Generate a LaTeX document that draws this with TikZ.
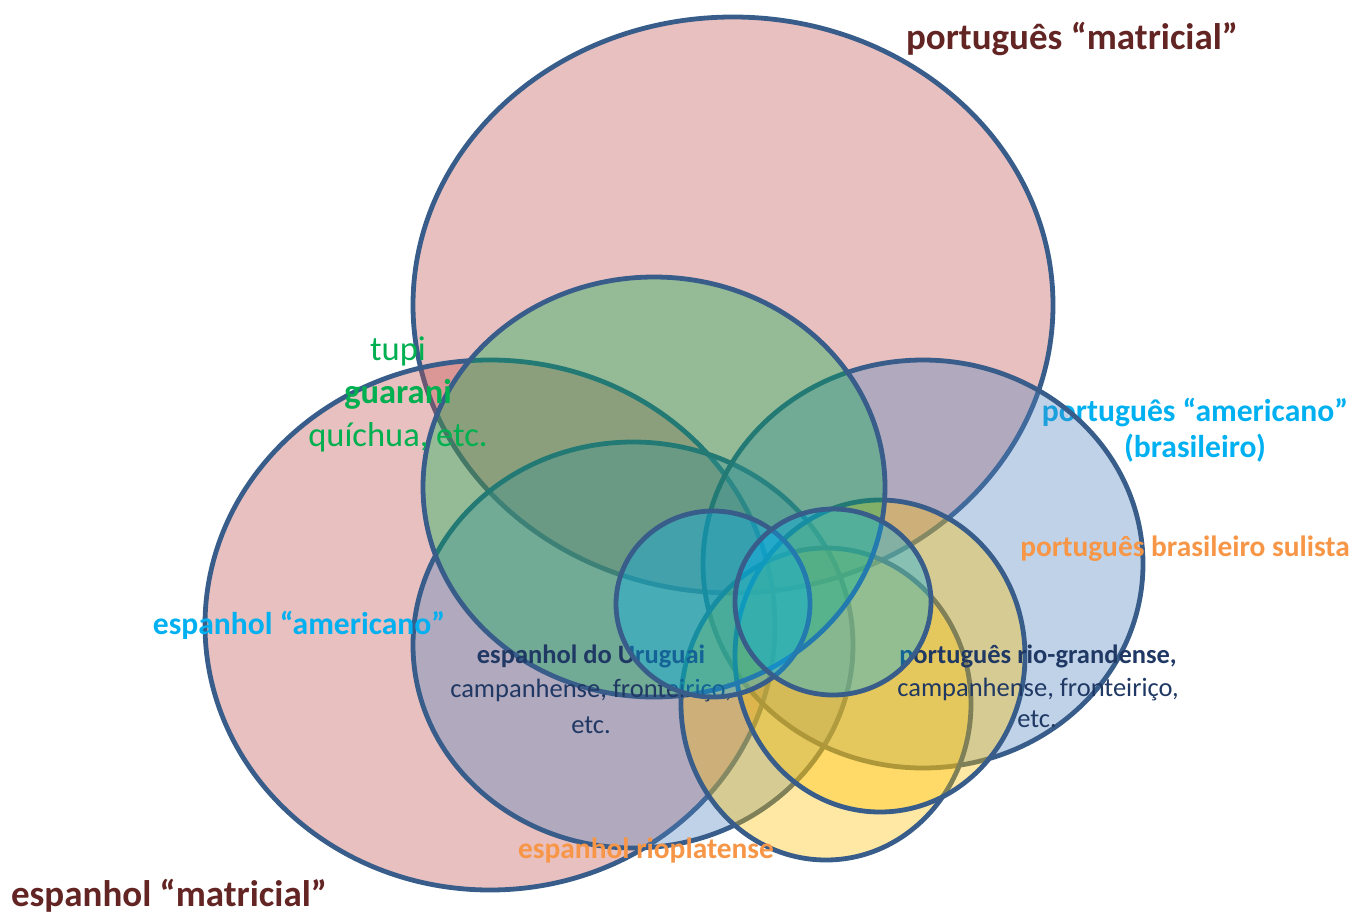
\documentclass[tikz,border=0pt]{standalone}
\usepackage{fontspec}
\setmainfont{Carlito}
\definecolor{venred}{HTML}{C0504D}
\definecolor{venblue}{HTML}{4F81BD}
\definecolor{vengreen}{HTML}{00B050}
\definecolor{vengold}{HTML}{FFC000}
\definecolor{vencyan}{HTML}{00B0F0}
\definecolor{venline}{HTML}{385D8A}
\definecolor{txtred}{HTML}{632523}
\definecolor{txtcyan}{HTML}{00B0F0}
\definecolor{txtorange}{HTML}{F79646}
\definecolor{txtgreen}{HTML}{00B050}
\definecolor{txtnavy}{HTML}{1F3864}
\begin{document}
\begin{tikzpicture}[x=1pt,y=-1pt,
  langset/.style={draw=venline, line width=4.8pt, fill=#1, fill opacity=0.36},
  lbl/.style={inner sep=0pt, anchor=base},
  bigtitle/.style={lbl, text=txtred, font=\fontsize{37}{44}\selectfont\bfseries},
  cyantitle/.style={lbl, text=txtcyan, font=\fontsize{31.6}{38}\selectfont\bfseries},
  orangetitle/.style={lbl, text=txtorange, font=\fontsize{29.4}{35}\selectfont\bfseries},
  greentxt/.style={lbl, text=txtgreen, font=\fontsize{34.5}{41}\selectfont},
  navytxt/.style={lbl, text=txtnavy, font=\fontsize{26.5}{32}\selectfont},
]
\useasboundingbox (0,0) rectangle (1352,913);

% português e espanhol "matriciais"
\draw[langset=venred] (733,305) ellipse [x radius=320, y radius=288];
\draw[langset=venred] (490,625) ellipse [x radius=285, y radius=265];

% espanhol "americano"
\draw[langset=venblue] (633,645) ellipse [x radius=220, y radius=203];

% rótulo parcialmente sob o português "americano"
\node[cyantitle] (ptam) at (1195,421) {português “americano”};
\node[cyantitle] (ptam2) at (1195,457) {(brasileiro)};

% português "americano"
\draw[langset=venblue] (923,564) ellipse [x radius=220, y radius=204];

% espanhol rioplatense e português sulista
\draw[langset=vengold] (826,704) ellipse [x radius=145, y radius=156];
\draw[langset=vengold] (880,656) ellipse [x radius=145, y radius=156];

% línguas indígenas
\draw[langset=vengreen] (654,487) ellipse [x radius=231, y radius=210];

% variedades de fronteira (sob os núcleos)
\node[navytxt, font=\fontsize{26.5}{32}\selectfont\bfseries] (esuy) at (591,663) {espanhol do Uruguai};
\node[navytxt] (esuy2) at (591,697) {campanhense, fronteiriço,};
\node[navytxt] (esuy3) at (591,733) {etc.};
\node[navytxt, font=\fontsize{26.5}{32}\selectfont\bfseries] (ptrs) at (1038,663) {português rio-grandense,};
\node[navytxt] (ptrs2) at (1038,696) {campanhense, fronteiriço,};
\node[navytxt] (ptrs3) at (1037,727) {etc.};

% núcleos de fronteira
\draw[langset=vencyan] (713,604) ellipse [x radius=97, y radius=93];
\draw[langset=vencyan] (833,602) ellipse [x radius=98, y radius=93];

% rótulos
\node[bigtitle] (ptmat) at (1072,49) {português “matricial”};
\node[bigtitle] (esmat) at (169,906) {espanhol “matricial”};
\node[cyantitle] (esam) at (299,634) {espanhol “americano”};
\node[orangetitle] (ptsul) at (1185,556) {português brasileiro sulista};
\node[orangetitle] (esrio) at (646,858) {espanhol rioplatense};
\node[greentxt] (tupi) at (398,360) {tupi};
\node[greentxt, font=\fontsize{34.5}{41}\selectfont\bfseries] (guarani) at (398,403) {guarani};
\node[greentxt] (quichua) at (398,446) {quíchua, etc.};
\end{tikzpicture}
\end{document}
